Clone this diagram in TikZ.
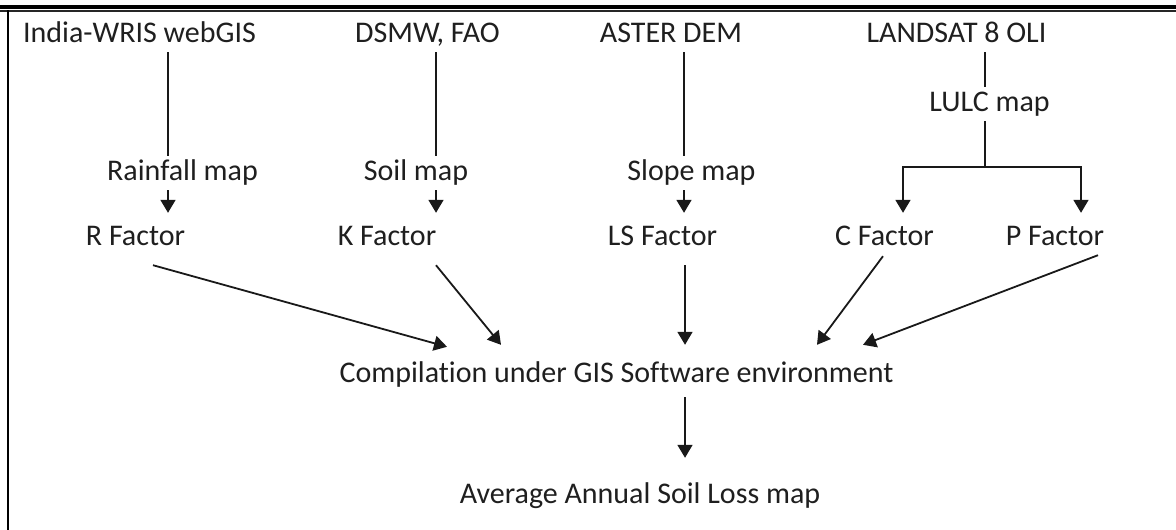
\documentclass[tikz,border=0pt]{standalone}
\usepackage{fontspec}
\setmainfont{Carlito}[Ligatures={NoCommon}]
\usetikzlibrary{arrows.meta,calc}
\begin{document}
\begin{tikzpicture}[x=1pt,y=-1pt,
  lbl/.style={anchor=base, inner xsep=0pt, inner ysep=4pt, text height=20pt, text depth=6pt,
              font=\fontsize{30}{36}\selectfont, text=black!88},
  conn/.style={line width=1.8pt, draw=black!90},
  arr/.style={conn, -{Triangle[length=13pt,width=15pt]}},
  tofac/.style={arr, shorten >=8pt}
]
\useasboundingbox (0,0) rectangle (1176,530);
\fill[white] (0,0) rectangle (1176,530);
% frame
\fill[black] (0,5) rectangle (1176,9.3);
\fill[black!85] (0,10.3) rectangle (1176,11.7);
\draw[line width=2pt, black] (8.3,10.3) -- (8.3,530);

% column coordinates
\coordinate (c1) at (168,0);
\coordinate (c2) at (436,0);
\coordinate (c3) at (684,0);
\coordinate (c4) at (985,0);
\coordinate (cC) at (903,0);
\coordinate (cP) at (1081,0);
\coordinate (lj) at (985,167);

% nodes
\node[lbl] (india)   at (139.5,42) {India-WRIS webGIS};
\node[lbl] (dsmw)    at (427.5,42) {DSMW, FAO};
\node[lbl] (aster)   at (671,42)   {ASTER DEM};
\node[lbl] (landsat) at (956.5,42) {LANDSAT 8 OLI};

\node[lbl] (rain)  at (182.5,180) {Rainfall map};
\node[lbl] (soil)  at (416,180)   {Soil map};
\node[lbl] (slope) at (691.5,180) {Slope map};
\node[lbl] (lulc)  at (989.5,111) {LULC map};

\node[lbl] (rf)  at (135.5,245) {R Factor};
\node[lbl] (kf)  at (387,245)   {K Factor};
\node[lbl] (lsf) at (662.5,245) {LS Factor};
\node[lbl] (cf)  at (884.5,245) {C Factor};
\node[lbl] (pf)  at (1055,245)  {P Factor};

\node[lbl] (comp) at (616.5,382) {Compilation under GIS Software environment};
\node[lbl] (avg)  at (640,503)   {Average Annual Soil Loss map};

% sources to maps
\draw[conn] (india.south -| c1) -- (rain.north -| c1);
\draw[conn] (dsmw.south -| c2) -- (soil.north -| c2);
\draw[conn] (aster.south -| c3) -- (slope.north -| c3);
\draw[conn] (landsat.south -| c4) -- (lulc.north -| c4);

% maps to factors
\draw[tofac] (rain.south -| c1) -- (rf.north -| c1);
\draw[tofac] (soil.south -| c2) -- (kf.north -| c2);
\draw[tofac] (slope.south -| c3) -- (lsf.north -| c3);
\draw[conn] (lulc.south -| c4) -- (lj);
\draw[tofac] (lj) -| (cf.north -| cC);
\draw[tofac] (lj) -| (pf.north -| cP);

% factors to compilation
\draw[arr] ($(rf.south)+(17.5,10)$) -- ($(comp.north)+(-169.5,-11)$);
\draw[arr] ($(kf.south)+(49,10)$)   -- ($(comp.north)+(-115.5,-13)$);
\draw[arr] ($(lsf.south)+(22.5,10)$) -- ($(comp.north)+(68.5,-13)$);
\draw[arr] ($(cf.south)+(-1.5,1)$)  -- ($(comp.north)+(200.5,-13)$);
\draw[arr] ($(pf.south)+(43,0)$)    -- ($(comp.north)+(246.5,-13)$);

% compilation to result
\draw[arr] ($(comp.south)+(68.5,5)$) -- ($(avg.north)+(45,-21)$);
\end{tikzpicture}
\end{document}
